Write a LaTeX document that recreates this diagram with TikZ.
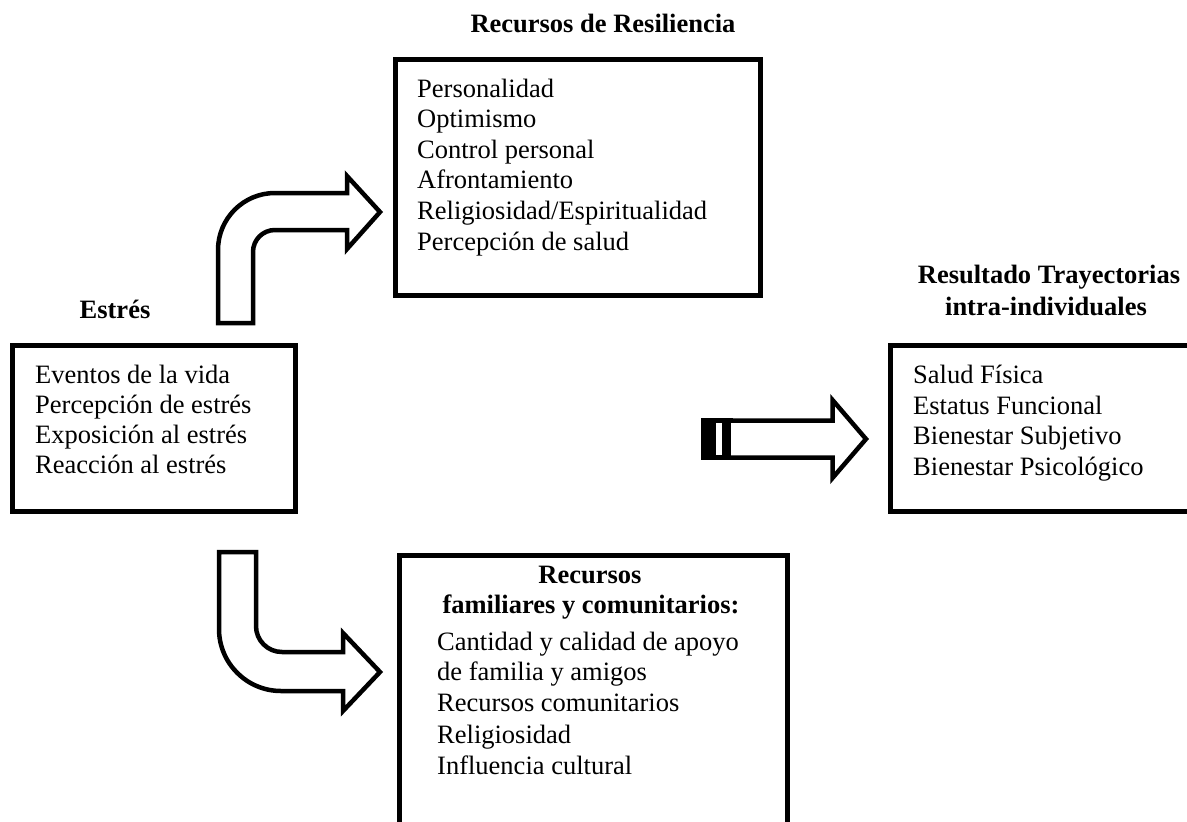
\documentclass[tikz,border=0pt]{standalone}
\usepackage{fontspec}
\setmainfont{Liberation Serif}
\begin{document}
\begin{tikzpicture}[x=1pt,y=-1pt,
  boxframe/.style={draw=black,line width=5pt,fill=white,inner sep=0pt,outer sep=0pt},
  txt/.style={inner sep=0pt,anchor=base west,font=\fontsize{26.5}{30}\selectfont},
  ttl/.style={inner sep=0pt,anchor=base,font=\fontsize{26.5}{30}\selectfont\bfseries},
  blockarrow/.style={draw=black,line width=4.5pt,fill=white,line join=miter}]
\useasboundingbox (0,0) rectangle (1187,822);

% frames
\node[boxframe,minimum width=283pt,minimum height=166pt] (stress) at (154,428.5) {};
\node[boxframe,minimum width=365pt,minimum height=236pt] (resil) at (578,177.5) {};
\node[boxframe,minimum width=388pt,minimum height=294.5pt] (family) at (593.5,702.75) {};
\node[boxframe,minimum width=319.5pt,minimum height=165.5pt] (outcome) at (1050.25,428.25) {};

% titles
\node[ttl] (tresil) at (603,32) {Recursos de Resiliencia};
\node[ttl] (tstress) at (115,318) {Estrés};
\node[ttl] (tout1) at (1049,283) {Resultado Trayectorias};
\node[ttl] (tout2) at (1046,315) {intra-individuales};

% stress items
\node[txt] (s1) at (35,383) {Eventos de la vida};
\node[txt] (s2) at (35,413) {Percepción de estrés};
\node[txt] (s3) at (35,443) {Exposición al estrés};
\node[txt] (s4) at (35,473) {Reacción al estrés};

% resilience items
\node[txt] (r1) at (417,97) {Personalidad};
\node[txt] (r2) at (417,127.7) {Optimismo};
\node[txt] (r3) at (417,158) {Control personal};
\node[txt] (r4) at (417,188.5) {Afrontamiento};
\node[txt] (r5) at (417,219) {Religiosidad/Espiritualidad};
\node[txt] (r6) at (417,250) {Percepción de salud};

% outcome items
\node[txt] (o1) at (913,383.5) {Salud Física};
\node[txt] (o2) at (913,414) {Estatus Funcional};
\node[txt] (o3) at (913,444.5) {Bienestar Subjetivo};
\node[txt] (o4) at (913,475) {Bienestar Psicológico};

% family and community items
\node[ttl] (f0a) at (590,583.5) {Recursos};
\node[ttl] (f0b) at (591,613.5) {familiares y comunitarios:};
\node[txt] (f1) at (437,650) {Cantidad y calidad de apoyo};
\node[txt] (f2) at (437,680.7) {de familia y amigos};
\node[txt] (f3) at (437,711.7) {Recursos comunitarios};
\node[txt] (f4) at (437,743) {Religiosidad};
\node[txt] (f5) at (437,774) {Influencia cultural};

% bent arrow up to the resilience resources
\draw[blockarrow] (218,323) -- (218,250)
  .. controls (218,218.5) and (243.5,193) .. (275,193)
  -- (347,193) -- (347,176) -- (380,212) -- (347,249) -- (347,230) -- (275,230)
  .. controls (262.8,230) and (253,239.8) .. (253,252)
  -- (253,323) -- cycle;

% bent arrow down to the family resources
\draw[blockarrow] (219,552) -- (219,629)
  .. controls (219,663.2) and (246.8,691) .. (281,691)
  -- (343,691) -- (343,711) -- (380,672) -- (343,633) -- (343,652) -- (282,652)
  .. controls (267.6,652) and (256,640.4) .. (256,626)
  -- (256,552) -- cycle;

% striped arrow towards the outcomes
\fill[black] (701,418) rectangle (733,460);
\fill[white] (716,423) rectangle (722,455);
\draw[blockarrow] (731,420.5) -- (832.5,420.5) -- (832.5,400) -- (866,439)
  -- (832.5,478) -- (832.5,457.5) -- (731,457.5);
\end{tikzpicture}
\end{document}
